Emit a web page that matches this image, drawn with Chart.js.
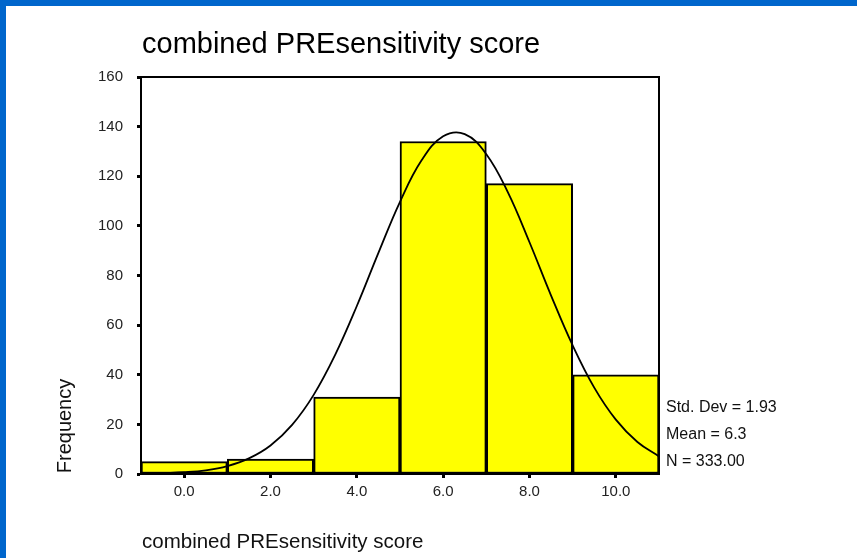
<!DOCTYPE html>
<html>
<head>
<meta charset="utf-8">
<script src="https://cdn.jsdelivr.net/npm/chart.js@4.4.1/dist/chart.umd.min.js"></script>
<style>
    html, body { margin: 0; padding: 0; background: #fff; }
    #frame { position: relative; width: 857px; height: 558px; overflow: hidden; }
    #frame:before { content: ""; position: absolute; left: 0; top: 0; width: 857px; height: 6px; background: #0066CC; }
    #frame:after { content: ""; position: absolute; left: 0; top: 0; width: 6px; height: 558px; background: #0066CC; }
    #chart { position: absolute; left: 0; top: 0; }
</style>
</head>
<body>
<div id="frame"><canvas id="chart" width="857" height="558"></canvas></div>
<script>
// histogram of the combined PREsensitivity score, with fitted normal curve

const binCenters = [0, 2, 4, 6, 8, 10];
const binCounts = [5, 6, 31, 134, 117, 40];

// normal curve
const curveX = [-0.5, 0, 0.5, 1, 1.5, 2, 2.5, 3, 3.5, 4, 4.5, 5, 5.5, 6, 6.5, 7, 7.5, 8, 8.5, 9, 9.5, 10, 10.5, 11];
const curveY = [0.3, 0.7, 1.5, 3.2, 6.3, 11.5, 19.8, 31.9, 48.1, 67.7, 89.1, 109.7, 126.4, 136.1, 137.0, 128.9, 113.5, 93.4, 71.9, 51.8, 34.8, 21.9, 12.9, 7.1];

const xTicks = [0, 2, 4, 6, 8, 10];
const yTicks = [0, 20, 40, 60, 80, 100, 120, 140, 160];

const chartTitle = 'combined PREsensitivity score';
const xTitle = 'combined PREsensitivity score';
const yTitle = 'Frequency';
const statLabels = ['Std. Dev = 1.93', 'Mean = 6.3', 'N = 333.00'];

const FONT = '"Liberation Sans", Arial, sans-serif';

// draws the box, titles and the stats block
const textPlugin = {
    id: 'spssText',
    afterDraw(chart) {
        const ctx = chart.ctx;
        const a = chart.chartArea;
        ctx.save();
        ctx.strokeStyle = '#000';
        ctx.lineWidth = 2;
        ctx.strokeRect(a.left, a.top, a.right - a.left, a.bottom - a.top);

        ctx.fillStyle = '#000';
        ctx.textBaseline = 'middle';
        ctx.textAlign = 'left';
        ctx.font = '29px ' + FONT;
        ctx.fillText(chartTitle, a.left + 1, 45);

        ctx.fillStyle = '#111';
        ctx.font = '20.5px ' + FONT;
        ctx.fillText(xTitle, a.left + 1, 542);

        ctx.font = '16px ' + FONT;
        statLabels.forEach((s, i) => ctx.fillText(s, a.right + 7, 408 + i * 27));

        ctx.translate(65, 426);
        ctx.rotate(-Math.PI / 2);
        ctx.textAlign = 'center';
        ctx.font = '20px ' + FONT;
        ctx.fillText(yTitle, 0, 0);
        ctx.restore();
    }
};

new Chart(document.getElementById('chart'), {
    data: {
        datasets: [
            {
                type: 'line',
                data: curveX.map((x, i) => ({ x: x, y: curveY[i] })),
                borderColor: '#000',
                borderWidth: 1.8,
                pointRadius: 0,
                tension: 0.4,
                order: 0
            },
            {
                type: 'bar',
                data: binCenters.map((x, i) => ({ x: x, y: binCounts[i] })),
                backgroundColor: '#FFFF00',
                borderColor: '#000',
                borderWidth: 2,
                borderSkipped: false,
                barPercentage: 1,
                categoryPercentage: 1,
                order: 1
            }
        ]
    },
    options: {
        responsive: false,
        animation: false,
        layout: { padding: { left: 0, top: 77, right: 198, bottom: 0 } },
        plugins: { legend: { display: false }, tooltip: { enabled: false } },
        scales: {
            x: {
                type: 'linear',
                min: -1,
                max: 11,
                offset: false,
                afterBuildTicks: s => { s.ticks = xTicks.map(v => ({ value: v })); },
                afterFit: s => { s.height = 84; },
                border: { color: '#000', width: 2 },
                grid: { offset: false, drawOnChartArea: false, tickLength: 4, tickWidth: 3, tickColor: '#000' },
                ticks: {
                    color: '#222',
                    padding: 5,
                    maxRotation: 0,
                    font: { family: FONT, size: 15 },
                    callback: v => v.toFixed(1)
                }
            },
            y: {
                min: 0,
                max: 160,
                afterBuildTicks: s => { s.ticks = yTicks.map(v => ({ value: v })); },
                afterFit: s => { s.width = 141; },
                border: { color: '#000', width: 2 },
                grid: { drawOnChartArea: false, tickLength: 4, tickWidth: 3, tickColor: '#000' },
                ticks: {
                    color: '#222',
                    padding: 14,
                    font: { family: FONT, size: 15 }
                }
            }
        }
    },
    plugins: [textPlugin]
});
</script>
</body>
</html>
